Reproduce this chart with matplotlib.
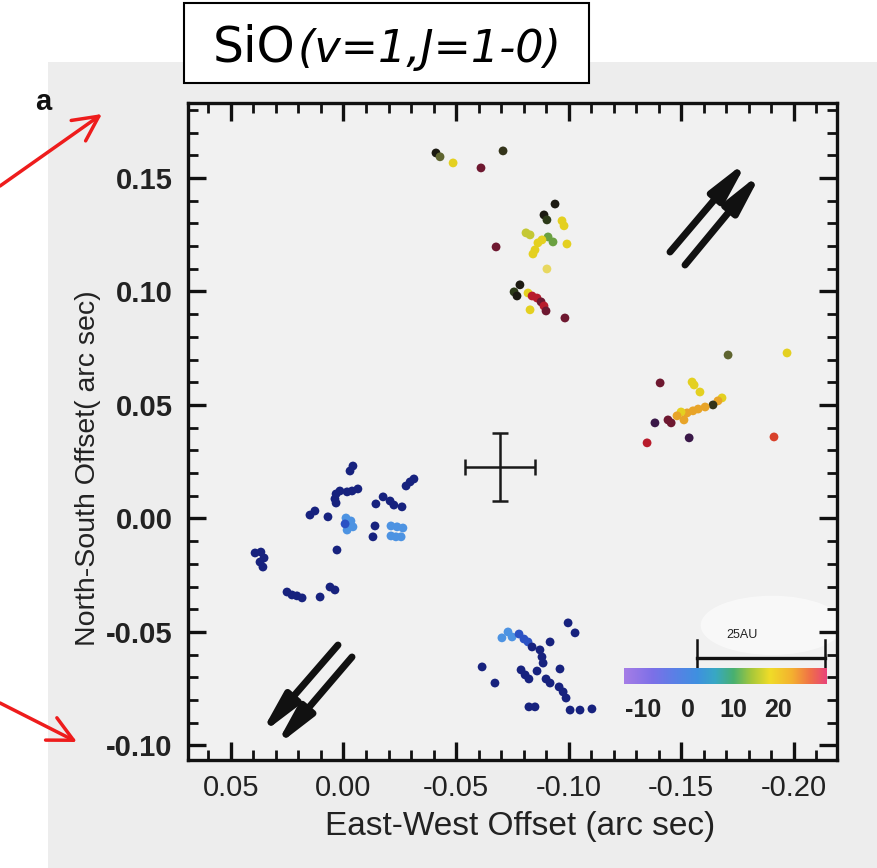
import matplotlib
matplotlib.use('Agg')
import matplotlib.pyplot as plt
import numpy as np
from matplotlib.patches import Rectangle, FancyArrowPatch, Ellipse
from matplotlib.colors import LinearSegmentedColormap
from matplotlib.ticker import FixedLocator, MultipleLocator, FixedFormatter

# ---------------- data ----------------
# red-shifted maser spots (top + right groups)
red_x = [-0.0411, -0.0429, -0.0487, -0.0611, -0.0709,
         -0.0940, -0.0891, -0.0904, -0.0971, -0.0980, -0.0829, -0.0811, -0.0909,
         -0.0931, -0.0864, -0.0882, -0.0993, -0.0851, -0.0842, -0.0904, -0.0678,
         -0.0784, -0.0758, -0.0771, -0.0820, -0.0838, -0.0860, -0.0878, -0.0891,
         -0.0900, -0.0829, -0.0984,
         -0.1709, -0.1971, -0.1407, -0.1549, -0.1558, -0.1584, -0.1682, -0.1664,
         -0.1642, -0.1607, -0.1576, -0.1553, -0.1527, -0.1500, -0.1482, -0.1513,
         -0.1442, -0.1456, -0.1384, -0.1536, -0.1349, -0.1913]
red_y = [0.1610, 0.1593, 0.1566, 0.1544, 0.1619,
         0.1385, 0.1337, 0.1315, 0.1311, 0.1289, 0.1249, 0.1258, 0.1240,
         0.1218, 0.1214, 0.1227, 0.1209, 0.1183, 0.1165, 0.1099, 0.1196,
         0.1029, 0.0998, 0.0980, 0.0993, 0.0980, 0.0971, 0.0954, 0.0936,
         0.0914, 0.0919, 0.0883,
         0.0720, 0.0729, 0.0597, 0.0601, 0.0588, 0.0557, 0.0531, 0.0518,
         0.0500, 0.0491, 0.0482, 0.0474, 0.0465, 0.0469, 0.0452, 0.0434,
         0.0434, 0.0421, 0.0421, 0.0355, 0.0333, 0.0359]
red_c = ['black', 'olive', 'yellow', 'maroon', 'dkolive',
         'black', 'black', 'dkgreen', 'yellow', 'yellow', 'ygreen', 'ygreen', 'green',
         'green', 'yellow', 'yellow', 'yellow', 'yellow', 'yellow', 'paleyellow', 'maroon',
         'black', 'dkgreen', 'black', 'yellow', 'red', 'red', 'maroon', 'red',
         'maroon', 'yellow', 'maroon',
         'olive', 'yellow', 'maroon', 'yellow', 'yellow', 'yellow', 'yellow', 'orange',
         'dkolive', 'orange', 'orange', 'orange', 'orange', 'yellow', 'orange', 'orange',
         'maroon', 'maroon', 'dkpurple', 'dkpurple', 'red', 'redorange']

# blue-shifted maser spots (left + bottom groups)
blue_x = [-0.0042, -0.0029, -0.0313, -0.0296, -0.0278,
          0.0033, 0.0016, -0.0016, -0.0038, -0.0064, 0.0038, 0.0033,
          0.0149, 0.0127, 0.0069,
          -0.0011, -0.0033, -0.0042, -0.0016, -0.0007,
          -0.0144, -0.0176, -0.0207, -0.0224, -0.0260, -0.0140, -0.0131,
          -0.0211, -0.0238, -0.0264, -0.0211, -0.0233, -0.0256,
          0.0029, 0.0393, 0.0367, 0.0353, 0.0371, 0.0358,
          0.0251, 0.0229, 0.0207, 0.0184, 0.0104, 0.0060, 0.0038,
          -0.0704, -0.0731, -0.0749, -0.0780, -0.0802, -0.0820, -0.0838, -0.0873,
          -0.0918, -0.0998, -0.1029, -0.0616, -0.0882, -0.0887, -0.0789, -0.0807,
          -0.0860, -0.0824, -0.0900, -0.0918, -0.0962, -0.0673, -0.0958, -0.0976,
          -0.0989, -0.0824, -0.0851, -0.1007, -0.1051, -0.1104]
blue_y = [0.0231, 0.0209, 0.0174, 0.0161, 0.0143,
          0.0108, 0.0121, 0.0117, 0.0121, 0.0130, 0.0086, 0.0068,
          0.0015, 0.0033, 0.0007,
          0.0002, -0.0011, -0.0037, -0.0051, -0.0024,
          0.0064, 0.0095, 0.0077, 0.0059, 0.0051, -0.0033, -0.0081,
          -0.0033, -0.0037, -0.0042, -0.0077, -0.0081, -0.0081,
          -0.0139, -0.0152, -0.0148, -0.0174, -0.0192, -0.0214,
          -0.0324, -0.0337, -0.0341, -0.0350, -0.0346, -0.0302, -0.0315,
          -0.0526, -0.0500, -0.0522, -0.0509, -0.0531, -0.0544, -0.0566, -0.0579,
          -0.0544, -0.0460, -0.0504, -0.0654, -0.0610, -0.0637, -0.0667, -0.0689,
          -0.0672, -0.0707, -0.0707, -0.0725, -0.0663, -0.0725, -0.0742, -0.0764,
          -0.0791, -0.0830, -0.0830, -0.0844, -0.0844, -0.0839]
blue_c = ['navy'] * 15 + ['lightblue'] * 4 + ['blue'] + ['navy'] * 7 + \
         ['lightblue'] * 6 + ['navy'] * 13 + \
         ['lightblue', 'lightblue', 'lightblue', 'blue', 'blue', 'blue'] + ['navy'] * 24

# position-accuracy cross
cross_x, cross_y = -0.0696, 0.0227
cross_xerr, cross_yerr = 0.0156, 0.0150

# colour scale (km/s)
cbar_min, cbar_max = -14.2, 30.7
cbar_ticks = [-10, 0, 10, 20]
cbar_labels = ['-10', '0', '10', '20']

x_ticks = [0.05, 0.00, -0.05, -0.10, -0.15, -0.20]
x_ticklabels = ['0.05', '0.00', '-0.05', '-0.10', '-0.15', '-0.20']
y_ticks = [0.15, 0.10, 0.05, 0.00, -0.05, -0.10]
y_ticklabels = ['0.15', '0.10', '0.05', '0.00', '-0.05', '-0.10']

PALETTE = {
    'navy': '#17227e', 'blue': '#2c52c4', 'lightblue': '#4d93e2',
    'black': '#1c1a12', 'olive': '#5f6530', 'dkolive': '#34341a',
    'dkgreen': '#2c3a18', 'green': '#6aa040', 'ygreen': '#c4c834',
    'yellow': '#e4d020', 'paleyellow': '#e8d860', 'orange': '#e8a428',
    'maroon': '#6e1830', 'red': '#b81c2c', 'redorange': '#d8402a',
    'dkpurple': '#3a1848',
}

# ---------------- figure ----------------
W, H = 878, 868
fig = plt.figure(figsize=(W / 100, H / 100), dpi=100)
fig.patch.set_facecolor('white')
fig.add_artist(Rectangle((48 / W, 0), 1 - 48 / W, 1 - 62 / H, transform=fig.transFigure,
                         facecolor='#ededed', edgecolor='none', zorder=0))

FONT = ['Liberation Sans', 'DejaVu Sans']

ax = fig.add_axes([188 / W, 1 - 760 / H, (837 - 188) / W, (760 - 103) / H])
ax.set_facecolor('#f1f1f1')
ax.set_xlim(0.0691, -0.2193)
ax.set_ylim(-0.1064, 0.1830)

ax.xaxis.set_major_locator(FixedLocator(x_ticks))
ax.xaxis.set_major_formatter(FixedFormatter(x_ticklabels))
ax.yaxis.set_major_locator(FixedLocator(y_ticks))
ax.yaxis.set_major_formatter(FixedFormatter(y_ticklabels))
ax.xaxis.set_minor_locator(MultipleLocator(0.01))
ax.yaxis.set_minor_locator(MultipleLocator(0.01))
ax.tick_params(which='both', direction='in', top=True, right=True, color='#111111')
ax.tick_params(which='major', length=13, width=2.4)
ax.tick_params(which='minor', length=7, width=2.0)
ax.tick_params(axis='x', which='major', pad=10)
ax.tick_params(axis='y', which='major', pad=11)
for lab in ax.get_xticklabels():
    lab.set_family(FONT); lab.set_fontsize(21); lab.set_color('#222222')
for lab in ax.get_yticklabels():
    lab.set_family(FONT); lab.set_fontsize(21); lab.set_fontweight('bold'); lab.set_color('#222222')
for sp in ax.spines.values():
    sp.set_linewidth(2.4)
    sp.set_color('#111111')

ax.set_xlabel('East-West Offset (arc sec)', family=FONT, fontsize=24, color='#222222')
ax.set_ylabel('North-South Offset( arc sec)', family=FONT, fontsize=20.5, color='#222222')
ax.xaxis.label.set_va('center')
ax.yaxis.label.set_va('center')
ax.xaxis.set_label_coords((520 - 188) / 649, (760 - 826) / 657)
ax.yaxis.set_label_coords((88 - 188) / 649, (760 - 468) / 657)

# faint white smudge in scan behind scale bar
ax.add_patch(Ellipse((0.90, 0.205), 0.22, 0.09, transform=ax.transAxes,
                     facecolor='white', edgecolor='none', alpha=0.55, zorder=1))

# maser spots
ax.scatter(red_x, red_y, s=40, c=[PALETTE[k] for k in red_c], edgecolors='none', zorder=3)
ax.scatter(blue_x, blue_y, s=40, c=[PALETTE[k] for k in blue_c], edgecolors='none', zorder=3)

# error cross
ax.errorbar([cross_x], [cross_y], xerr=[cross_xerr], yerr=[cross_yerr], fmt='none',
            ecolor='#1a1a1a', elinewidth=1.8, capsize=6, capthick=1.8, zorder=3)

# double black arrows (jet direction)
def big_arrow(p0, p1):
    a = FancyArrowPatch(p0, p1, transform=ax.transAxes,
                        arrowstyle='-|>,head_length=2.0,head_width=0.42',
                        mutation_scale=12, lw=5, color='#111111', zorder=4,
                        shrinkA=0, shrinkB=0)
    ax.add_patch(a)

big_arrow((0.7427, 0.7732), (0.8629, 0.9132))
big_arrow((0.7658, 0.7534), (0.8844, 0.8950))
big_arrow((0.2311, 0.1750), (0.1109, 0.0381))
big_arrow((0.2527, 0.1568), (0.1341, 0.0198))

# colour bar inset
cmap = LinearSegmentedColormap.from_list('vel', [
    (0.00, '#a67de6'), (0.14, '#7c70e8'), (0.25, '#5a80e6'), (0.36, '#3f90e0'),
    (0.45, '#38a8c4'), (0.54, '#48b070'), (0.63, '#a8c83a'), (0.72, '#f0dc28'),
    (0.83, '#f4b030'), (0.92, '#f07048'), (1.00, '#e8447a')])
cax = ax.inset_axes([0.6718, 0.1157, 0.3113, 0.0243])
grad = np.linspace(cbar_min, cbar_max, 256)[None, :]
cax.imshow(grad, aspect='auto', cmap=cmap, extent=[cbar_min, cbar_max, 0, 1],
           vmin=cbar_min, vmax=cbar_max)
cax.set_xlim(cbar_min, cbar_max)
cax.set_yticks([])
cax.set_xticks(cbar_ticks)
cax.set_xticklabels(cbar_labels, family=FONT, fontsize=18, fontweight='bold', color='#222222')
cax.tick_params(axis='x', length=0, pad=10)
for sp in cax.spines.values():
    sp.set_visible(False)

# 25 AU scale bar
sb_x0, sb_x1, sb_y = 0.7843, 0.9815, 0.1553
ax.plot([sb_x0, sb_x1], [sb_y, sb_y], transform=ax.transAxes, color='#111111', lw=2.4, zorder=4)
for xx in (sb_x0, sb_x1):
    ax.plot([xx, xx], [0.1416, 0.1826], transform=ax.transAxes, color='#111111', lw=1.8, zorder=4)
ax.text(0.853, 0.191, '25AU', transform=ax.transAxes, ha='center', va='center',
        family=FONT, fontsize=9, color='#222222', zorder=4)

# panel letter
fig.text(43 / W, 1 - 102 / H, 'a', ha='center', va='center', fontsize=21,
         fontweight='bold', family=FONT, color='#111111')

# title box
fig.add_artist(Rectangle((184 / W, 1 - 83 / H), 405 / W, 80 / H, transform=fig.transFigure,
                         facecolor='white', edgecolor='black', lw=1.5, zorder=5))
t1 = fig.text(213 / W, 1 - 62 / H, 'SiO', ha='left', va='baseline', fontsize=35,
              family='DejaVu Sans', zorder=6)
fig.canvas.draw()
bb = t1.get_window_extent()
fig.text((bb.x1 + 2) / W, 1 - 62 / H, '(v=1,J=1-0)', ha='left', va='baseline', fontsize=32,
         family='DejaVu Sans', style='italic', zorder=6)

# red pointer arrows
def red_arrow(p0, p1):
    a = FancyArrowPatch((p0[0] / W, 1 - p0[1] / H), (p1[0] / W, 1 - p1[1] / H),
                        transform=fig.transFigure,
                        arrowstyle='->,head_length=1.0,head_width=0.5',
                        mutation_scale=18, lw=2.5, color='#ee1c1c', zorder=6,
                        shrinkA=0, shrinkB=0)
    fig.add_artist(a)

red_arrow((0, 186), (102, 114))
red_arrow((0, 703), (77, 742))

fig.savefig('out.png', dpi=100)
